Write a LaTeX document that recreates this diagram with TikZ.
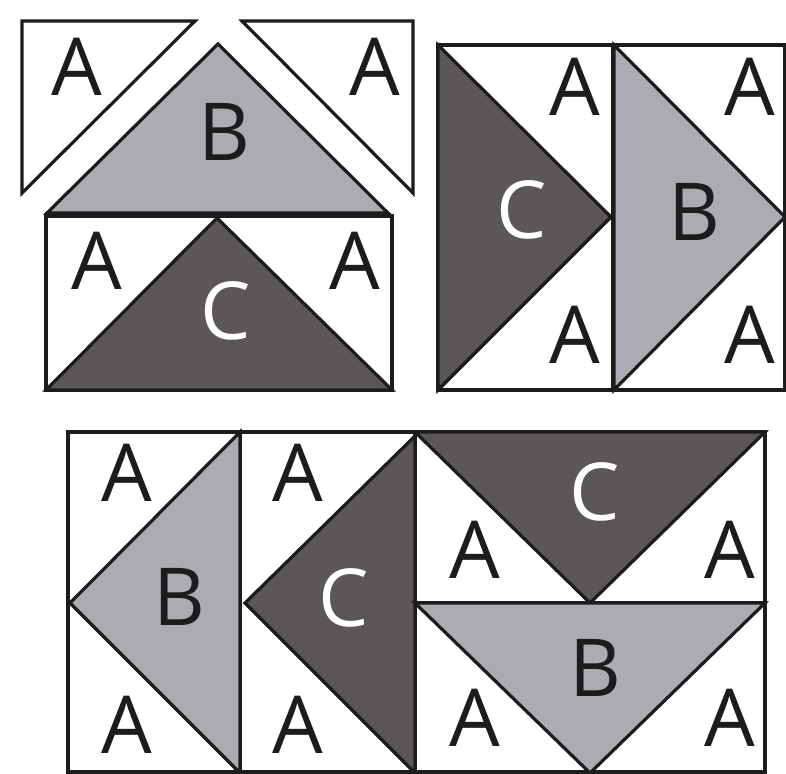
\documentclass[tikz,border=0pt]{standalone}
\usepackage{fontspec}
\setmainfont{Open Sans}
\definecolor{bgray}{HTML}{ADAAB1}
\definecolor{cgray}{HTML}{5A5659}
\definecolor{ink}{HTML}{1C1C1C}
\tikzset{
  piece/.style={draw=ink, line width=3.2pt, line join=miter},
  afill/.style={piece, fill=white},
  bfill/.style={piece, fill=bgray},
  cfill/.style={piece, fill=cgray},
  lbl/.style={inner sep=0pt, anchor=center, font=\fontsize{80}{80}\selectfont, text=ink},
  lblw/.style={lbl, text=white},
}
\begin{document}
\begin{tikzpicture}[x=1pt,y=-1pt]
\useasboundingbox (0,0) rectangle (786,773);
\clip (0,0) rectangle (786,773);
% ---- top-left unit (flying geese, exploded) ----
\draw[afill] (22,21) -- (195,21) -- (22,193) -- cycle;
\draw[afill] (242,21) -- (413,21) -- (413,193) -- cycle;
\draw[bfill] (218,44) -- (388,213) -- (47,213) -- cycle;
\draw[afill] (46,216) rectangle (392,390);
\draw[cfill] (217,218) -- (392,390) -- (46,390) -- cycle;
\node[lbl] (a1) at (77,67) {A};
\node[lbl] (a2) at (375,67) {A};
\node[lbl] (b1) at (224,132) {B};
\node[lbl] (a3) at (97,261) {A};
\node[lbl] (a4) at (355,261) {A};
\node[lblw] (c1) at (226,311) {C};
% ---- top-right unit ----
\draw[afill] (438,45) rectangle (785,390);
\draw[piece] (613,45) -- (613,390);
\draw[cfill] (438,45) -- (611,217) -- (438,390) -- cycle;
\draw[bfill] (614,45) -- (785,217) -- (614,390) -- cycle;
\node[lbl] (a5) at (575,87) {A};
\node[lbl] (a6) at (750,87) {A};
\node[lblw] (c2) at (522,210) {C};
\node[lbl] (b2) at (694,212) {B};
\node[lbl] (a7) at (575,335) {A};
\node[lbl] (a8) at (750,335) {A};
% ---- bottom unit ----
\draw[afill] (68,432) rectangle (765,772);
\draw[piece] (240,432) -- (240,772);
\draw[piece] (415,432) -- (415,772);
\draw[piece] (415,603) -- (765,603);
\draw[bfill] (240,432) -- (70,603) -- (240,773) -- cycle;
\draw[cfill] (415,436) -- (245,603) -- (415,773) -- cycle;
\draw[cfill] (415,432) -- (765,432) -- (590,603) -- cycle;
\draw[bfill] (415,603) -- (765,603) -- (590,773) -- cycle;
\node[lbl] (a9) at (127,473) {A};
\node[lbl] (a10) at (298,473) {A};
\node[lbl] (b3) at (179,597) {B};
\node[lblw] (c3) at (344,598) {C};
\node[lbl] (a11) at (127,725) {A};
\node[lbl] (a12) at (298,725) {A};
\node[lblw] (c4) at (595,492) {C};
\node[lbl] (a13) at (475,550) {A};
\node[lbl] (a14) at (730,550) {A};
\node[lbl] (b4) at (595,668) {B};
\node[lbl] (a15) at (475,718) {A};
\node[lbl] (a16) at (730,718) {A};
\end{tikzpicture}
\end{document}
